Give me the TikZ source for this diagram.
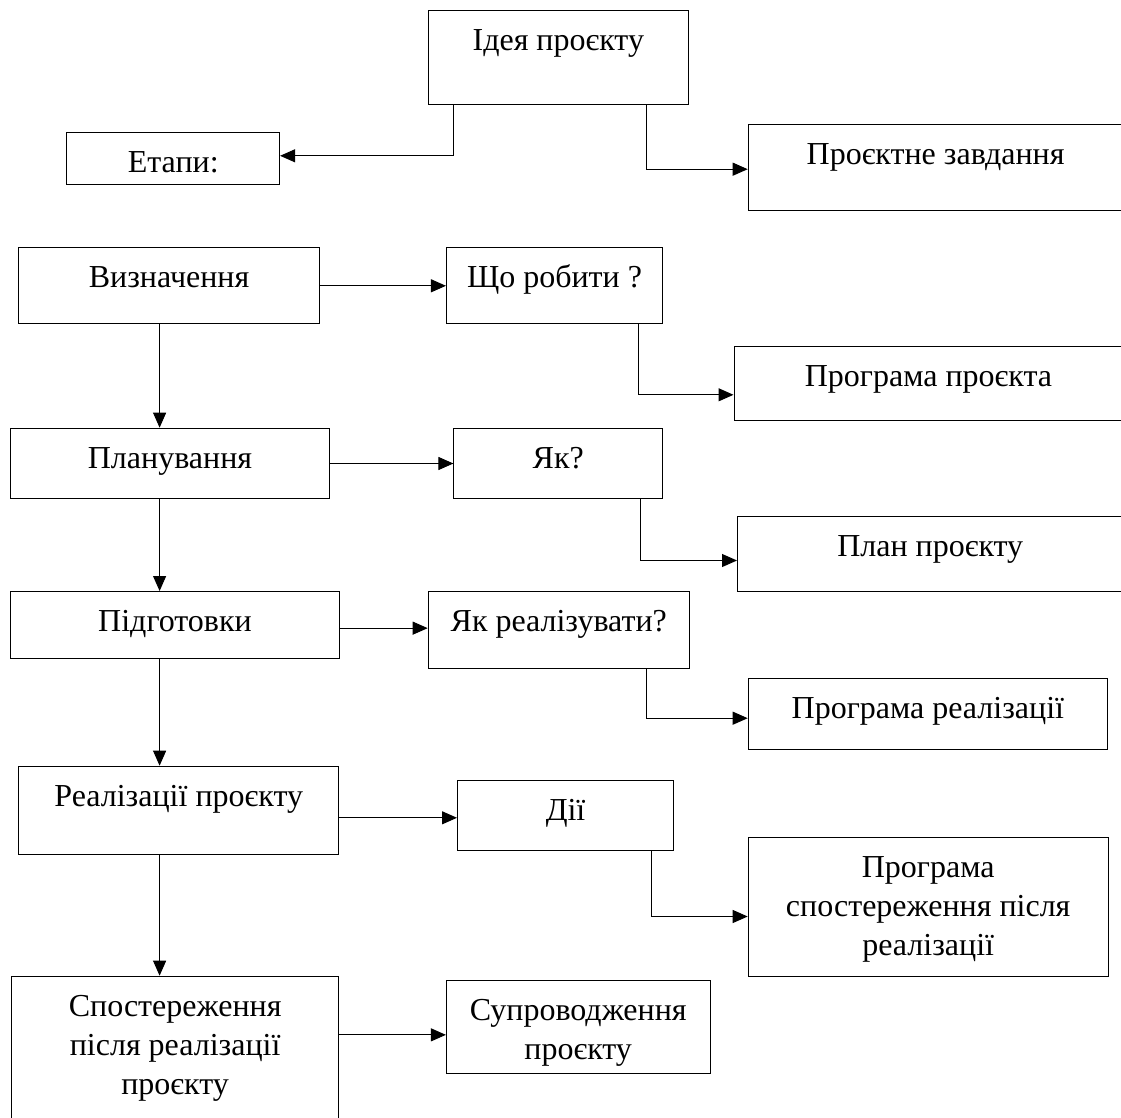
\documentclass[tikz,border=0pt]{standalone}
\usepackage{fontspec}
\setmainfont{Liberation Serif}
\usepackage{tikz}
\usetikzlibrary{arrows.meta, positioning}

\begin{document}
\begin{tikzpicture}[
    x=1pt, y=-1pt,
    blok/.style={draw, line width=1pt, rectangle, anchor=north, inner sep=0pt, align=center, text height=40pt, font=\fontsize{32}{39}\selectfont},
    arrow/.style={-{Triangle[length=15pt, width=13pt]}, line width=1pt}
]
\useasboundingbox (0,0) rectangle (1121,1118);

% Nodes
\node[blok, minimum width=259.4pt, text depth=54.3pt] (idea) at (558.3,10) {Ідея проєкту};
\node[blok, minimum width=212.8pt, text depth=12.6pt] (etapy) at (173.2,131.7) {Етапи:};
\node[blok, minimum width=374.8pt, text depth=46pt] (zavd) at (935.6,124) {Проєктне завдання};

\node[blok, minimum width=301pt, text depth=36pt] (vyzn) at (169.1,247.3) {Визначення};
\node[blok, minimum width=216.1pt, text depth=36pt] (shcho) at (554.5,247.3) {Що робити ?};
\node[blok, minimum width=389pt, text depth=34pt] (prog) at (928.5,346) {Програма проєкта};

\node[blok, minimum width=318.6pt, text depth=30.6pt] (plan) at (170,427.7) {Планування};
\node[blok, minimum width=208.6pt, text depth=30.6pt] (yak) at (558.2,427.7) {Як?};
\node[blok, minimum width=385.5pt, text depth=35pt] (planpr) at (930.25,516) {План проєкту};

\node[blok, minimum width=328.6pt, text depth=27.3pt] (pidg) at (175,591) {Підготовки};
\node[blok, minimum width=261.1pt, text depth=36.7pt] (yakreal) at (558.75,591) {Як реалізувати?};
\node[blok, minimum width=359.3pt, text depth=31.6pt] (progreal) at (927.85,677.7) {Програма реалізації};

\node[blok, minimum width=320.3pt, text depth=48pt] (realiz) at (178.75,765.7) {Реалізації проєкту};
\node[blok, minimum width=216.1pt, text depth=30pt] (dii) at (565.55,780.3) {Дії};
\node[blok, minimum width=360pt, text height=118pt, text depth=21pt] (progspost) at (928.2,836.7) {Програма\\спостереження після\\реалізації};

\node[blok, minimum width=327.5pt, text height=118pt, text depth=31.3pt] (spost) at (175.15,975.7) {Спостереження\\після реалізації\\проєкту};
\node[blok, minimum width=263.6pt, text height=79pt, text depth=13.7pt] (suprov) at (578.2,980) {Супроводження\\проєкту};

\coordinate (stem) at (159.6,0);

% Arrows
\draw[arrow] ([xshift=-104.7pt]idea.south) |- ([yshift=2.7pt]etapy.east);
\draw[arrow] ([xshift=87.7pt]idea.south) |- ([yshift=-1.7pt]zavd.west);

\draw[arrow] (vyzn.east) -- (shcho.west);
\draw[arrow] ([xshift=84.1pt]shcho.south) |- ([yshift=-11.3pt]prog.west);
\draw[arrow] (plan.east) -- (yak.west);
\draw[arrow] ([xshift=82.5pt]yak.south) |- ([yshift=-6.5pt]planpr.west);
\draw[arrow] ([yshift=-3pt]pidg.east) -- ([yshift=-3pt]pidg.east -| yakreal.west);
\draw[arrow] ([xshift=87.25pt]yakreal.south) |- ([yshift=-4.2pt]progreal.west);
\draw[arrow] ([yshift=-7.6pt]realiz.east) -- ([yshift=-7.6pt]realiz.east -| dii.west);
\draw[arrow] ([xshift=86.25pt]dii.south) |- ([yshift=-9.8pt]progspost.west);
\draw[arrow] ([yshift=-8pt]suprov.west -| spost.east) -- ([yshift=-8pt]suprov.west);

% Stages
\draw[arrow] (vyzn.south -| stem) -- (plan.north -| stem);
\draw[arrow] (plan.south -| stem) -- (pidg.north -| stem);
\draw[arrow] (pidg.south -| stem) -- (realiz.north -| stem);
\draw[arrow] (realiz.south -| stem) -- (spost.north -| stem);

\end{tikzpicture}
\end{document}
